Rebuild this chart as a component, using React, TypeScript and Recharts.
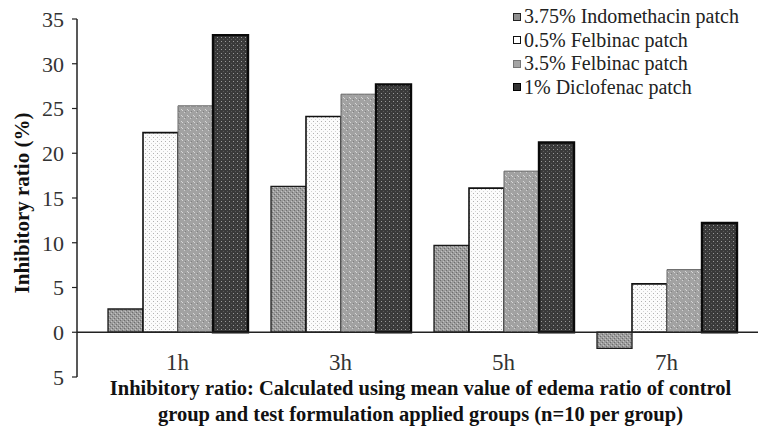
import React from 'react';
import { BarChart, Bar, XAxis, YAxis, ReferenceLine, Legend, Label } from 'recharts';

const categories = ['1h', '3h', '5h', '7h'];
const indomethacin375 = [2.6, 16.3, 9.7, -1.8];
const felbinac05 = [22.3, 24.1, 16.1, 5.4];
const felbinac35 = [25.3, 26.6, 18.0, 7.0];
const diclofenac1 = [33.2, 27.7, 21.2, 12.2];
const yTicks = [-5, 0, 5, 10, 15, 20, 25, 30, 35];

const seriesNames = [
  '3.75% Indomethacin patch',
  '0.5% Felbinac patch',
  '3.5% Felbinac patch',
  '1% Diclofenac patch',
];

const data = categories.map((c, i) => ({
  name: c,
  s1: indomethacin375[i],
  s2: felbinac05[i],
  s3: felbinac35[i],
  s4: diclofenac1[i],
}));

const series = [
  { key: 's1', name: seriesNames[0], fill: 'url(#pat1)', stroke: '#1a1a1a', sw: 1.3, mk: '#8f8f8f', mkStroke: '#222' },
  { key: 's2', name: seriesNames[1], fill: 'url(#pat2)', stroke: '#111', sw: 1.6, mk: '#ffffff', mkStroke: '#111' },
  { key: 's3', name: seriesNames[2], fill: 'url(#pat3)', stroke: '#666', sw: 1, mk: '#a5a5a5', mkStroke: '#777' },
  { key: 's4', name: seriesNames[3], fill: 'url(#pat4)', stroke: '#0a0a0a', sw: 2.4, mk: '#333', mkStroke: '#000' },
];

const FONT = '"Liberation Serif", "Times New Roman", serif';

const XTick = (props: any) => (
  <text x={props.x} y={props.y - 15} textAnchor="middle" fontFamily={FONT} fontSize={23} fill="#333">
    {props.payload.value}
  </text>
);

const LegendContent = () => (
  <div style={{ fontFamily: FONT, fontSize: 20, color: '#222', lineHeight: '23.5px' }}>
    {series.map((s) => (
      <div key={s.key} style={{ display: 'flex', alignItems: 'center', whiteSpace: 'nowrap' }}>
        <span
          style={{
            display: 'inline-block',
            width: 6,
            height: 6,
            background: s.mk,
            border: `1.5px solid ${s.mkStroke}`,
            marginRight: 3,
          }}
        />
        <span>{s.name}</span>
      </div>
    ))}
  </div>
);

export default function App() {
  return (
    <div style={{ position: 'absolute', left: 0, top: 0, width: 766, height: 437, background: '#fff' }}>
      <BarChart
        width={766}
        height={437}
        data={data}
        margin={{ top: 19, right: 8, bottom: 0, left: 17 }}
        barGap={0}
        barSize={35}
      >
        <defs>
          <pattern id="pat1" width="4" height="4" patternUnits="userSpaceOnUse">
            <rect width="4" height="4" fill="#9c9c9c" />
            <rect x="0" y="0" width="1" height="1" fill="#6e6e6e" />
            <rect x="2" y="2" width="1" height="1" fill="#6e6e6e" />
            <rect x="1" y="3" width="1" height="1" fill="#c4c4c4" />
            <rect x="3" y="1" width="1" height="1" fill="#c4c4c4" />
          </pattern>
          <pattern id="pat2" width="4" height="4" patternUnits="userSpaceOnUse">
            <rect width="4" height="4" fill="#fbfbfb" />
            <rect x="1" y="1" width="1" height="1" fill="#b0b0b0" />
            <rect x="3" y="3" width="1" height="1" fill="#d4d4d4" />
          </pattern>
          <pattern id="pat3" width="6" height="6" patternUnits="userSpaceOnUse">
            <rect width="6" height="6" fill="#a2a2a2" />
            <rect x="1" y="1" width="1" height="1" fill="#d6d6d6" />
            <rect x="2" y="2" width="1" height="1" fill="#d6d6d6" />
            <rect x="4" y="4" width="1" height="1" fill="#d0d0d0" />
            <rect x="5" y="3" width="1" height="1" fill="#808080" />
          </pattern>
          <pattern id="pat4" width="4" height="4" patternUnits="userSpaceOnUse">
            <rect width="4" height="4" fill="#3a3a3a" />
            <rect x="1" y="1" width="1" height="1" fill="#9a9a9a" />
            <rect x="3" y="3" width="1" height="1" fill="#5a5a5a" />
          </pattern>
        </defs>
        <XAxis
          dataKey="name"
          height={60}
          axisLine={false}
          tickLine={false}
          interval={0}
          padding={{ left: 19, right: 10 }}
          tick={<XTick />}
        >
          <Label
            content={(p: any) => {
              const vb = p.viewBox || { x: 77, y: 377, width: 681, height: 60 };
              const cx = vb.x + vb.width / 2 + 3;
              return (
                <text textAnchor="middle" fontFamily={FONT} fontWeight="bold" fontSize={20.5} fill="#111">
                  <tspan x={cx} y={395}>Inhibitory ratio: Calculated using mean value of edema ratio of control</tspan>
                  <tspan x={cx} y={421}>group and test formulation applied groups (n=10 per group)</tspan>
                </text>
              );
            }}
          />
        </XAxis>
        <YAxis
          width={60}
          domain={[-5, 35]}
          ticks={yTicks}
          interval={0}
          allowDataOverflow
          axisLine={{ stroke: '#222', strokeWidth: 1.5 }}
          tickLine={{ stroke: '#222', strokeWidth: 1.2 }}
          tickSize={5}
          tickMargin={8}
          tickFormatter={(v: number) => String(Math.abs(v))}
          tick={{ fontFamily: FONT, fontSize: 22, fill: '#333' }}
        >
          <Label
            content={() => (
              <text
                x={22}
                y={203}
                transform="rotate(-90 22 203)"
                textAnchor="middle"
                dominantBaseline="central"
                fontFamily={FONT}
                fontWeight="bold"
                fontSize={21}
                fill="#111"
              >
                Inhibitory ratio (%)
              </text>
            )}
          />
        </YAxis>
        <Legend
          layout="vertical"
          align="center"
          verticalAlign="middle"
          wrapperStyle={{ position: 'absolute', top: 5, left: 513, width: 253, height: 100 }}
          content={<LegendContent />}
        />
        {series.map((s) => (
          <Bar
            key={s.key}
            dataKey={s.key}
            name={s.name}
            fill={s.fill}
            stroke={s.stroke}
            strokeWidth={s.sw}
            isAnimationActive={false}
          />
        ))}
        <ReferenceLine y={0} stroke="#222" strokeWidth={1.5} />
      </BarChart>
    </div>
  );
}
